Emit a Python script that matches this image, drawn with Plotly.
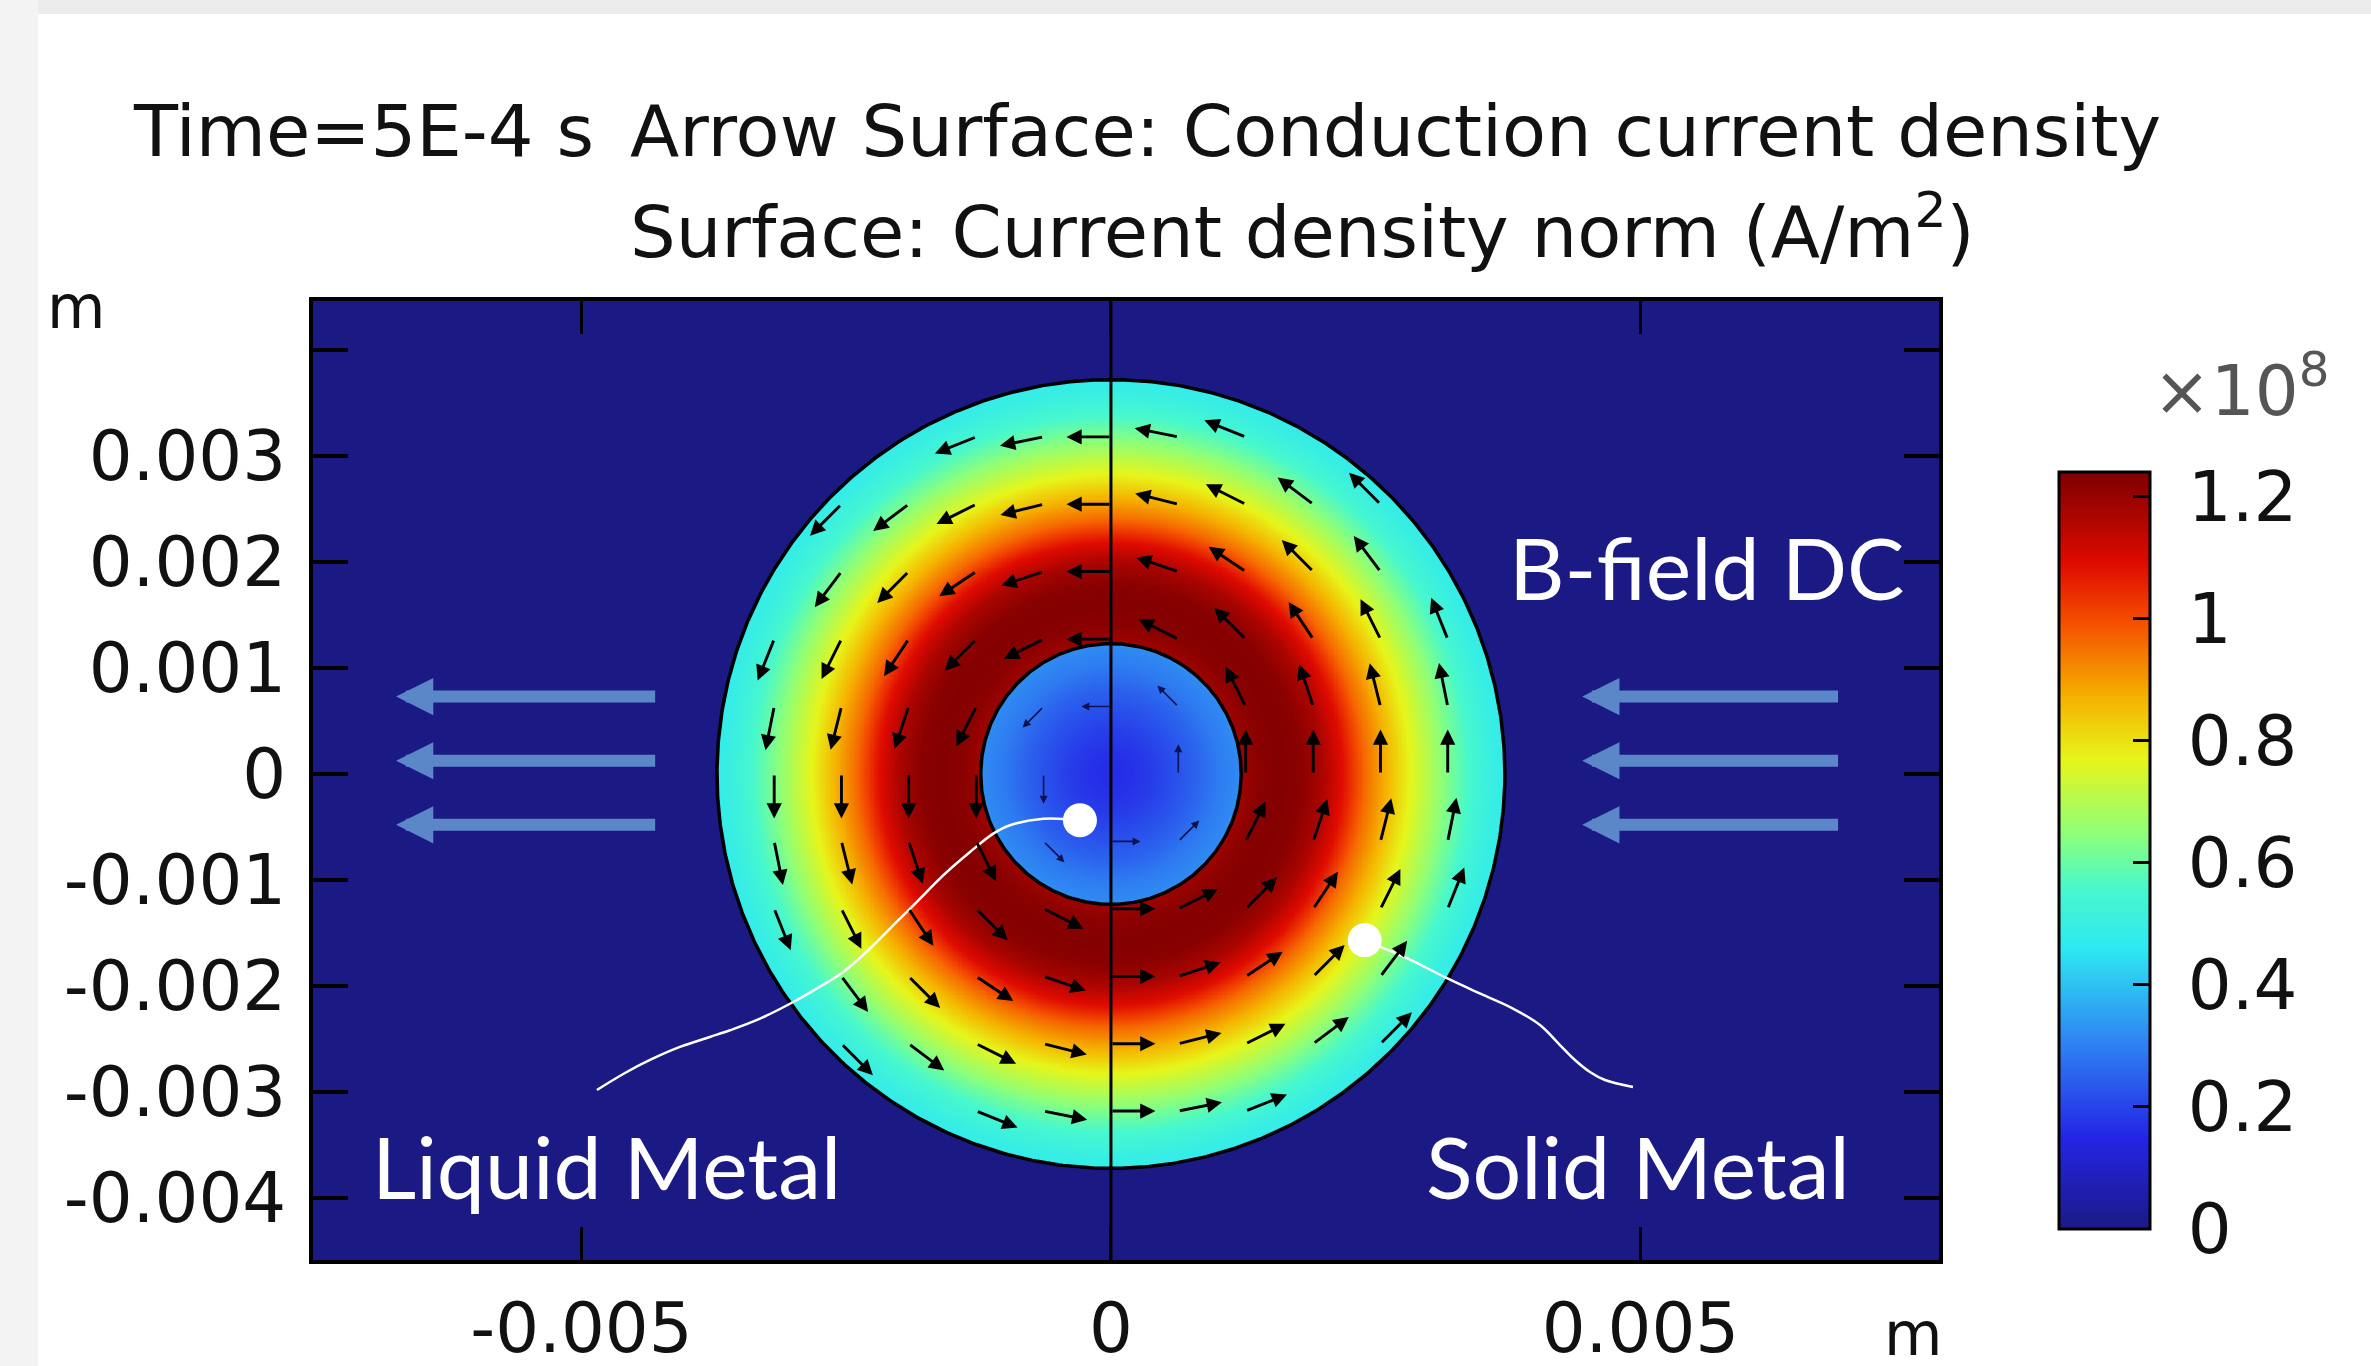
import numpy as np
import plotly.graph_objects as go

W, H = 2371, 1366

# ---------------- values ----------------
# radial profile of the current density norm (units of 1e8 A/m^2)
core_radius_mm = [0.0, 0.2, 0.4, 0.6, 0.8, 1.0, 1.23]
core_jnorm_e8 = [0.16, 0.17, 0.19, 0.22, 0.25, 0.29, 0.32]
ring_radius_mm = [1.23, 1.4, 1.6, 1.8, 2.0, 2.2, 2.4, 2.6, 2.8, 3.0, 3.2, 3.4, 3.6, 3.72]
ring_jnorm_e8 = [1.19, 1.22, 1.23, 1.22, 1.17, 1.08, 0.96, 0.87, 0.78, 0.70, 0.62, 0.55, 0.50, 0.48]

inner_radius_mm = 1.23
outer_radius_mm = 3.72
domain_boundary_x_m = 0.0

# arrow-surface sample grid (mm) and arrow lengths
arrow_grid_mm = [-3.18, -2.545, -1.91, -1.272, -0.636, 0.0, 0.636, 1.272, 1.91, 2.545, 3.18]
arrow_length_ring_mm = 0.42
arrow_length_core_mm = 0.28

x_tickvals = [-0.005, 0.0, 0.005]
x_ticktext = ["-0.005", "0", "0.005"]
y_tickvals = [-0.004, -0.003, -0.002, -0.001, 0.0, 0.001, 0.002, 0.003, 0.004]
y_ticktext = ["-0.004", "-0.003", "-0.002", "-0.001", "0", "0.001", "0.002", "0.003", ""]
cbar_tickvals = [0, 0.2, 0.4, 0.6, 0.8, 1.0, 1.2]
cbar_ticktext = ["0", "0.2", "0.4", "0.6", "0.8", "1", "1.2"]
cbar_range = [0.0, 1.24]

x_range_m = [-0.007535, 0.007819]
y_range_m = [-0.004585, 0.004462]

# B-field DC arrows (m)
bfield_y_m = [0.00073, 0.000125, -0.00048]
bfield_left_tip_x_m, bfield_left_tail_x_m = -0.00675, -0.00429
bfield_right_tip_x_m, bfield_right_tail_x_m = 0.00445, 0.00688

# callout curves (mm)
liquid_callout_x_mm = [-0.293, -0.639, -0.954, -1.111, -1.331, -1.584, -1.835, -2.024, -2.276,
                       -2.528, -2.779, -3.000, -3.314, -3.598, -3.787, -4.070, -4.353, -4.589, -4.854]
liquid_callout_y_mm = [-0.437, -0.422, -0.484, -0.563, -0.736, -0.956, -1.208, -1.396, -1.648,
                       -1.868, -2.025, -2.151, -2.308, -2.418, -2.481, -2.575, -2.698, -2.821, -2.981]
solid_callout_x_mm = [2.396, 2.585, 2.805, 3.182, 3.494, 3.787, 4.051, 4.240, 4.381, 4.523, 4.665, 4.929]
solid_callout_y_mm = [-1.569, -1.648, -1.742, -1.931, -2.075, -2.208, -2.368, -2.557, -2.698, -2.811, -2.887, -2.953]

colorscale = [
    [0.00, "#1b1a84"], [0.12, "#2424e6"], [0.25, "#2f86f2"], [0.37, "#2ee8f2"],
    [0.45, "#48f8cc"], [0.52, "#8cff7a"], [0.62, "#e6f51a"], [0.70, "#f5b400"],
    [0.80, "#f55000"], [0.88, "#de0a00"], [1.00, "#7d0000"],
]
NAVY = "#1b1a84"

# ---------------- surface field ----------------
grid_mm = np.linspace(-3.8, 3.8, 641)
GX, GY = np.meshgrid(grid_mm, grid_mm)
R = np.hypot(GX, GY)
Z = np.zeros_like(R)
core = R <= inner_radius_mm
ring = (R > inner_radius_mm) & (R <= outer_radius_mm)
Z[core] = np.interp(R[core], core_radius_mm, core_jnorm_e8)
Z[ring] = np.interp(R[ring], ring_radius_mm, ring_jnorm_e8)
Z = Z.astype(np.float32)

fig = go.Figure()
fig.add_trace(go.Heatmap(
    x=(grid_mm / 1000.0), y=(grid_mm / 1000.0), z=Z,
    coloraxis="coloraxis", zsmooth=False, hoverinfo="skip",
))

# domain outlines
theta = np.linspace(0, 2 * np.pi, 721)
for rad in (outer_radius_mm, inner_radius_mm):
    fig.add_trace(go.Scatter(
        x=rad / 1000.0 * np.cos(theta), y=rad / 1000.0 * np.sin(theta),
        mode="lines", line=dict(color="black", width=3.5),
        hoverinfo="skip", showlegend=False,
    ))

# callouts
for cx, cy in ((liquid_callout_x_mm, liquid_callout_y_mm), (solid_callout_x_mm, solid_callout_y_mm)):
    fig.add_trace(go.Scatter(
        x=np.array(cx) / 1000.0, y=np.array(cy) / 1000.0, mode="lines",
        line=dict(color="white", width=2.5, shape="spline"),
        hoverinfo="skip", showlegend=False,
    ))
    fig.add_trace(go.Scatter(
        x=[cx[0] / 1000.0], y=[cy[0] / 1000.0], mode="markers",
        marker=dict(color="white", size=34, line=dict(width=0)),
        hoverinfo="skip", showlegend=False,
    ))

annotations = []
# current density arrows (counter-clockwise)
for gx in arrow_grid_mm:
    for gy in arrow_grid_mm:
        r = float(np.hypot(gx, gy))
        if r < 0.05:
            continue
        if r < inner_radius_mm:
            L, w, sz, col = arrow_length_core_mm, 1.6, 1.0, "#0b1450"
        elif r < outer_radius_mm - 0.04:
            L, w, sz, col = arrow_length_ring_mm, 2.9, 1.05, "#000000"
        else:
            continue
        dx, dy = -gy / r * L, gx / r * L
        annotations.append(dict(
            x=(gx + dx) / 1000.0, y=(gy + dy) / 1000.0, ax=gx / 1000.0, ay=gy / 1000.0,
            xref="x", yref="y", axref="x", ayref="y", text="", showarrow=True,
            arrowhead=2, arrowsize=sz, arrowwidth=w, arrowcolor=col, standoff=0,
        ))

# B-field arrows
for yv in bfield_y_m:
    for tip, tail in ((bfield_left_tip_x_m, bfield_left_tail_x_m), (bfield_right_tip_x_m, bfield_right_tail_x_m)):
        annotations.append(dict(
            x=tip, y=yv, ax=tail, ay=yv, xref="x", yref="y", axref="x", ayref="y",
            text="", showarrow=True, arrowhead=2, arrowsize=0.62, arrowwidth=12,
            arrowcolor="#5b87c9", standoff=0,
        ))

label_font = dict(family="Lato, Open Sans, sans-serif", size=86, color="white")
annotations += [
    dict(x=0.005628, y=0.00196, xref="x", yref="y", text="B-field DC", showarrow=False,
         font=label_font, xanchor="center", yanchor="middle"),
    dict(x=-0.00476, y=-0.00369, xref="x", yref="y", text="Liquid Metal", showarrow=False,
         font=label_font, xanchor="center", yanchor="middle"),
    dict(x=0.00498, y=-0.00369, xref="x", yref="y", text="Solid Metal", showarrow=False,
         font=label_font, xanchor="center", yanchor="middle"),
]

title_font = dict(family="DejaVu Sans", size=72, color="#111111")
annotations += [
    dict(x=131 / W, y=1 - 131 / H, xref="paper", yref="paper", text="Time=5E-4 s",
         showarrow=False, font=title_font, xanchor="left", yanchor="middle"),
    dict(x=628 / W, y=1 - 131 / H, xref="paper", yref="paper",
         text="Arrow Surface: Conduction current density",
         showarrow=False, font=title_font, xanchor="left", yanchor="middle"),
    dict(x=628 / W, y=1 - 227 / H, xref="paper", yref="paper",
         text="Surface: Current density norm (A/m<sup>2</sup>)",
         showarrow=False, font=title_font, xanchor="left", yanchor="middle"),
    dict(x=76 / W, y=1 - 307 / H, xref="paper", yref="paper", text="m", showarrow=False,
         font=dict(family="DejaVu Sans", size=60, color="#111111"), xanchor="center", yanchor="middle"),
    dict(x=1913 / W, y=1 - 1334 / H, xref="paper", yref="paper", text="m", showarrow=False,
         font=dict(family="DejaVu Sans", size=60, color="#111111"), xanchor="center", yanchor="middle"),
    dict(x=2241 / W, y=1 - 386 / H, xref="paper", yref="paper", text="×10<sup>8</sup>", showarrow=False,
         font=dict(family="DejaVu Sans", size=69, color="#555555"), xanchor="center", yanchor="middle"),
]

shapes = [
    dict(type="line", xref="x", yref="y domain", x0=domain_boundary_x_m, x1=domain_boundary_x_m,
         y0=0, y1=1, line=dict(color="black", width=3)),
    dict(type="rect", xref="paper", yref="paper", x0=0, x1=1, y0=1 - 14 / H, y1=1,
         fillcolor="#ececec", line=dict(width=0), layer="below"),
    dict(type="rect", xref="paper", yref="paper", x0=0, x1=38 / W, y0=0, y1=1,
         fillcolor="#f3f3f3", line=dict(width=0), layer="below"),
]

tick_font = dict(family="DejaVu Sans", size=69, color="#111111")
fig.update_layout(
    width=W, height=H,
    margin=dict(l=0, r=0, t=0, b=0, autoexpand=False),
    paper_bgcolor="white", plot_bgcolor=NAVY,
    showlegend=False,
    xaxis=dict(
        domain=[313 / W, 1939 / W], range=x_range_m, tickvals=x_tickvals, ticktext=x_ticktext,
        ticks="inside", ticklen=33, tickwidth=3, tickcolor="black", mirror="ticks",
        showline=True, linewidth=4, linecolor="black", showgrid=False, zeroline=False,
        tickfont=tick_font, ticklabelstandoff=5,
    ),
    yaxis=dict(
        domain=[106 / H, 1065 / H], range=y_range_m, tickvals=y_tickvals, ticktext=y_ticktext,
        ticks="inside", ticklen=35, tickwidth=4, tickcolor="black", mirror="ticks",
        showline=True, linewidth=4, linecolor="black", showgrid=False, zeroline=False,
        tickfont=tick_font, ticklabelstandoff=9,
    ),
    coloraxis=dict(
        cmin=cbar_range[0], cmax=cbar_range[1], colorscale=colorscale,
        colorbar=dict(
            x=2059 / W, xanchor="left", y=137 / H, yanchor="bottom",
            lenmode="pixels", len=757, thicknessmode="pixels", thickness=91,
            xpad=0, ypad=0, outlinewidth=3, outlinecolor="black",
            ticks="inside", ticklen=18, tickwidth=3, tickcolor="black",
            tickvals=cbar_tickvals, ticktext=["\u00a0" + t for t in cbar_ticktext],
            tickfont=tick_font,
        ),
    ),
    annotations=annotations,
    shapes=shapes,
)

fig.write_html(
    "out.html",
    config={"displayModeBar": False},
    post_script="document.body.style.margin='0px';document.body.style.overflow='hidden';",
)
